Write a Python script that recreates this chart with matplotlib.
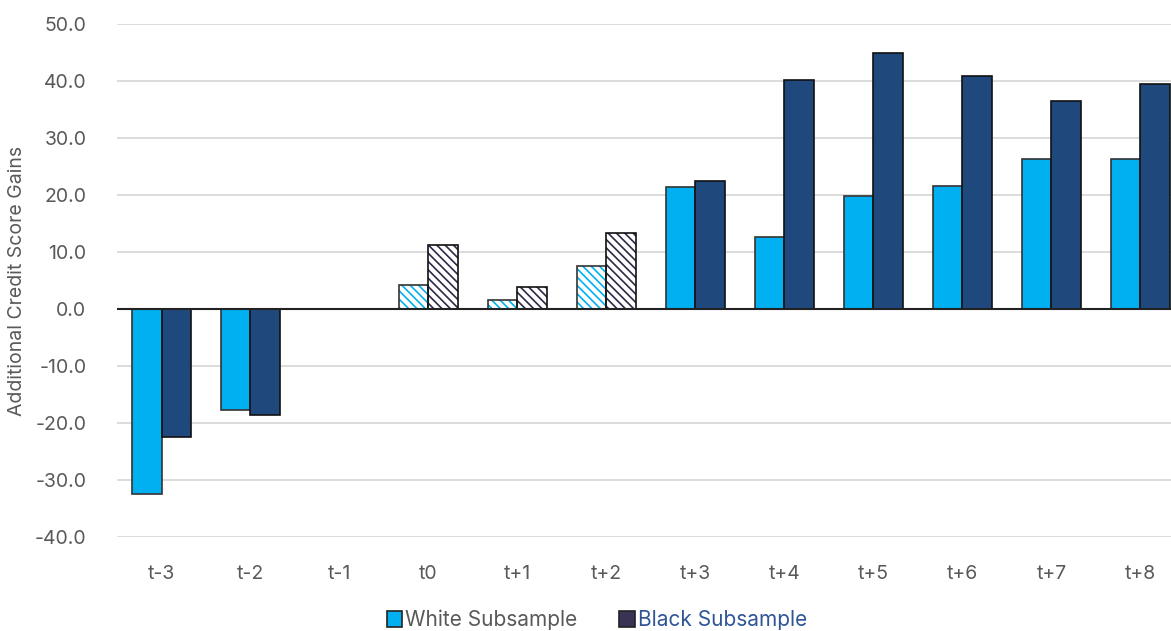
import numpy as np
import matplotlib.pyplot as plt
from matplotlib.patches import Patch

periods = ['t-3', 't-2', 't-1', 't0', 't+1', 't+2', 't+3', 't+4', 't+5', 't+6', 't+7', 't+8']
white = [-32.5, -17.7, 0.0, 4.2, 1.6, 7.5, 21.4, 12.6, 19.8, 21.6, 26.3, 26.3]
black = [-22.5, -18.6, 0.0, 11.2, 3.9, 13.3, 22.5, 40.2, 44.9, 40.9, 36.5, 39.5]
# periods drawn hatched (not significant)
hatched = ['t0', 't+1', 't+2']

plt.rcParams['font.family'] = ['Inter', 'DejaVu Sans']
plt.rcParams['hatch.linewidth'] = 1.2

c_white = '#00B0F0'
c_black = '#1F497D'
c_hatch_b = '#2E2847'
c_text = '#595959'

fig = plt.figure(figsize=(11.71, 6.31), dpi=100)
ax = fig.add_axes([117 / 1171, 1 - 537 / 631, 1068 / 1171, 513 / 631])

x = np.arange(len(periods))
w = 0.33
for i, p in enumerate(periods):
    if p in hatched:
        ax.bar(x[i] - w / 2, white[i], w, color='white', edgecolor=c_white, hatch='\\\\\\\\', linewidth=0, zorder=3)
        ax.bar(x[i] + w / 2, black[i], w, color='white', edgecolor=c_hatch_b, hatch='\\\\\\\\', linewidth=0, zorder=3)
        ax.bar(x[i] - w / 2, white[i], w, fill=False, edgecolor='#333333', linewidth=1.2, zorder=4)
        ax.bar(x[i] + w / 2, black[i], w, fill=False, edgecolor='#111111', linewidth=1.2, zorder=4)
    else:
        ax.bar(x[i] - w / 2, white[i], w, color=c_white, edgecolor='#333333', linewidth=1.2, zorder=3)
        ax.bar(x[i] + w / 2, black[i], w, color=c_black, edgecolor='#111111', linewidth=1.2, zorder=3)

ax.set_xlim(-0.5, len(periods) - 0.5)
ax.set_ylim(-40, 50)
ax.set_yticks(np.arange(-40, 51, 10))
ax.set_yticklabels([f'{v:.1f}' for v in np.arange(-40, 51, 10)])
ax.set_xticks(x)
ax.set_xticklabels(periods)
ax.tick_params(length=0, labelsize=14, colors=c_text)
ax.tick_params(axis='x', pad=20)
ax.tick_params(axis='y', pad=22)
ax.grid(axis='y', color='#D9D9D9', linewidth=1.3, zorder=0)
ax.axhline(0, color='#222222', linewidth=1.5, zorder=5)
for s in ax.spines.values():
    s.set_visible(False)

ax.set_ylabel('Additional Credit Score Gains', fontsize=14, color=c_text, labelpad=6)

handles = [Patch(facecolor=c_white, edgecolor='#222222', linewidth=1.2),
           Patch(facecolor='#3B3355', edgecolor='#222222', linewidth=1.2)]
leg = fig.legend(handles, ['White Subsample', 'Black Subsample'], loc='center',
                 bbox_to_anchor=(597 / 1171, 1 - 620 / 631), ncol=2, frameon=False,
                 fontsize=15, handlelength=0.75, handleheight=0.75, handletextpad=0.15,
                 columnspacing=2.0)
leg.get_texts()[0].set_color(c_text)
leg.get_texts()[1].set_color('#2F5597')

fig.savefig('out.png', dpi=100)
